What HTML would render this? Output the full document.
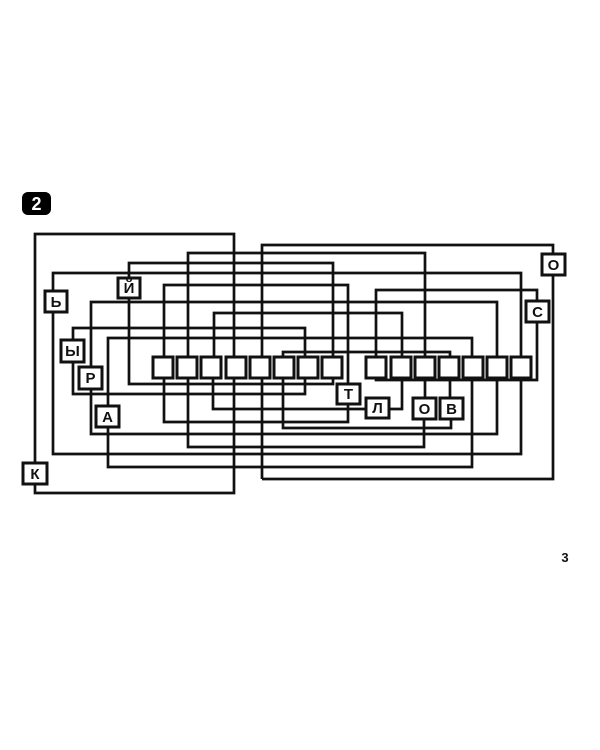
<!DOCTYPE html>
<html><head><meta charset="utf-8"><style>
html,body{margin:0;padding:0;background:#fff;width:600px;height:750px;overflow:hidden}
svg{display:block}
text{font-family:"Liberation Sans","DejaVu Sans",sans-serif;font-weight:bold}
</style></head><body>
<svg width="600" height="750" viewBox="0 0 600 750" xmlns="http://www.w3.org/2000/svg">
<rect x="22" y="192" width="29" height="23" rx="6" fill="#000"/>
<text x="36.5" y="210" font-size="18" fill="#fff" text-anchor="middle">2</text>
<text x="565" y="562" font-size="13" fill="#111" text-anchor="middle">3</text>
<g fill="none" stroke="#111" stroke-width="2.7" stroke-linejoin="miter">
<polyline points="35,463 35,234 234,234 234,493 35,493 35,484"/>
<polyline points="262,479 262,245 553,245 553,253"/>
<polyline points="553,275 553,479 262,479"/>
<polyline points="188,357 188,253 425,253 425,357"/>
<polyline points="129,278 129,263 333,263 333,357"/>
<polyline points="53,291 53,273 521,273 521,357"/>
<polyline points="164,357 164,285 348,285 348,383"/>
<polyline points="376,357 376,290 537,290 537,301"/>
<polyline points="91,367 91,302 497,302 497,357"/>
<polyline points="214,357 214,313 402,313 402,357"/>
<polyline points="73,340 73,328 305,328 305,357"/>
<polyline points="108,406 108,338 472,338 472,357"/>
<polyline points="283,357 283,352 450,352 450,357"/>
<polyline points="129,298 129,384 333,384 333,378"/>
<polyline points="73,362 73,394 305,394 305,378"/>
<polyline points="213,378 213,409 366,409"/>
<polyline points="389,409 402,409 402,378"/>
<polyline points="164,378 164,422 348,422 348,404"/>
<polyline points="283,378 283,428 451,428 451,420"/>
<polyline points="91,389 91,434 497,434 497,378"/>
<polyline points="188,378 188,447 424,447 424,420"/>
<polyline points="53,312 53,454 521,454 521,378"/>
<polyline points="108,427 108,467 472,467 472,378"/>
<polyline points="376,378 376,380 537,380 537,322"/>
<polyline points="425,378 425,397"/>
<polyline points="450,378 450,397"/>
</g>
<g fill="#fff" stroke="#111" stroke-width="3">
<rect x="153" y="357" width="20" height="21"/>
<rect x="177" y="357" width="20" height="21"/>
<rect x="201" y="357" width="20" height="21"/>
<rect x="226" y="357" width="20" height="21"/>
<rect x="250" y="357" width="20" height="21"/>
<rect x="274" y="357" width="20" height="21"/>
<rect x="298" y="357" width="20" height="21"/>
<rect x="322" y="357" width="20" height="21"/>
<rect x="366" y="357" width="20" height="21"/>
<rect x="391" y="357" width="20" height="21"/>
<rect x="415" y="357" width="20" height="21"/>
<rect x="439" y="357" width="20" height="21"/>
<rect x="463" y="357" width="20" height="21"/>
<rect x="487" y="357" width="20" height="21"/>
<rect x="511" y="357" width="20" height="21"/>
<rect x="45" y="291" width="22" height="21"/>
<rect x="118" y="278" width="22" height="20"/>
<rect x="61" y="340" width="23" height="22"/>
<rect x="79" y="367" width="23" height="22"/>
<rect x="96" y="406" width="23" height="21"/>
<rect x="23" y="463" width="24" height="21"/>
<rect x="337" y="384" width="23" height="20"/>
<rect x="366" y="398" width="23" height="20"/>
<rect x="413" y="398" width="23" height="21"/>
<rect x="440" y="398" width="23" height="21"/>
<rect x="542" y="254" width="23" height="21"/>
<rect x="526" y="301" width="23" height="21"/>
</g>
<g font-size="15" fill="#111" text-anchor="middle" style="font-family:'Liberation Sans','DejaVu Sans',sans-serif">
<text x="56" y="307">Ь</text>
<text x="129" y="293">Й</text>
<text x="72.5" y="356">Ы</text>
<text x="90.5" y="383">Р</text>
<text x="107.5" y="422">А</text>
<text x="35" y="479">К</text>
<text x="348.5" y="399">Т</text>
<text x="377.5" y="413">Л</text>
<text x="424.5" y="414">О</text>
<text x="451.5" y="414">В</text>
<text x="553.5" y="270">О</text>
<text x="537.5" y="317">С</text>
</g>
</svg>
</body></html>
